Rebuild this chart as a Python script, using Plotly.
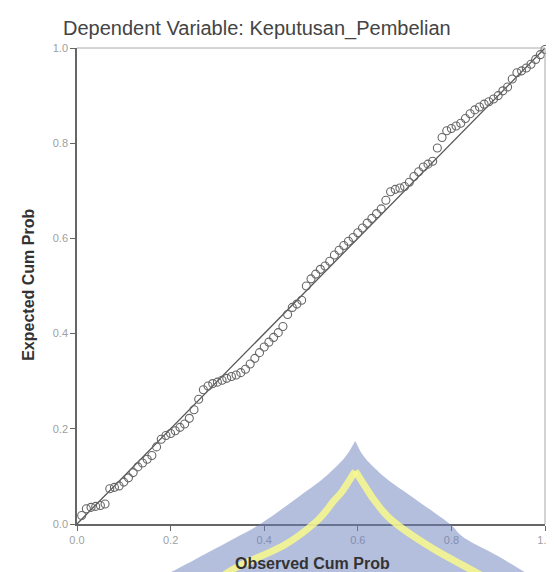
import plotly.graph_objects as go

observed = [0.01, 0.02, 0.03, 0.04, 0.05, 0.06, 0.07, 0.08, 0.09, 0.10,
            0.11, 0.12, 0.13, 0.14, 0.15, 0.16, 0.17, 0.18, 0.19, 0.20,
            0.21, 0.22, 0.23, 0.24, 0.25, 0.26, 0.27, 0.28, 0.29, 0.30,
            0.31, 0.32, 0.33, 0.34, 0.35, 0.36, 0.37, 0.38, 0.39, 0.40,
            0.41, 0.42, 0.43, 0.44, 0.45, 0.46, 0.47, 0.48, 0.49, 0.50,
            0.51, 0.52, 0.53, 0.54, 0.55, 0.56, 0.57, 0.58, 0.59, 0.60,
            0.61, 0.62, 0.63, 0.64, 0.65, 0.66, 0.67, 0.68, 0.69, 0.70,
            0.71, 0.72, 0.73, 0.74, 0.75, 0.76, 0.77, 0.78, 0.79, 0.80,
            0.81, 0.82, 0.83, 0.84, 0.85, 0.86, 0.87, 0.88, 0.89, 0.90,
            0.91, 0.92, 0.93, 0.94, 0.95, 0.96, 0.97, 0.98, 0.99, 1.00]

expected = [0.018, 0.032, 0.035, 0.037, 0.039, 0.042, 0.074, 0.077, 0.080, 0.088,
            0.097, 0.108, 0.120, 0.128, 0.136, 0.144, 0.162, 0.178, 0.186, 0.190,
            0.196, 0.203, 0.210, 0.222, 0.240, 0.262, 0.282, 0.290, 0.295, 0.298,
            0.302, 0.306, 0.310, 0.313, 0.318, 0.325, 0.336, 0.348, 0.360, 0.372,
            0.382, 0.392, 0.402, 0.415, 0.440, 0.455, 0.462, 0.470, 0.500, 0.515,
            0.525, 0.535, 0.542, 0.552, 0.565, 0.575, 0.585, 0.594, 0.602, 0.612,
            0.622, 0.632, 0.642, 0.652, 0.662, 0.680, 0.698, 0.703, 0.706, 0.709,
            0.718, 0.730, 0.740, 0.750, 0.756, 0.762, 0.790, 0.812, 0.826, 0.831,
            0.836, 0.842, 0.852, 0.862, 0.870, 0.876, 0.882, 0.887, 0.893, 0.900,
            0.910, 0.918, 0.935, 0.948, 0.952, 0.958, 0.966, 0.976, 0.986, 0.997]

ref_line = [0.0, 1.0]
tick_vals = [0.0, 0.2, 0.4, 0.6, 0.8, 1.0]
tick_text = ["0.0", "0.2", "0.4", "0.6", "0.8", "1.0"]

W, H = 554, 572
L, R, T, B = 69, 545, 40, 516


def px(x, y):
    return (x - L) / (R - L), (B - y) / (B - T)


def fmt(p):
    a = px(*p)
    return f"{a[0]:.4f},{a[1]:.4f}"


def smooth(points, start_cmd="M"):
    """Catmull-Rom spline through the points, as cubic Bezier path segments."""
    s = f"{start_cmd} {fmt(points[0])}"
    n = len(points)
    for i in range(n - 1):
        p0 = points[i - 1] if i > 0 else points[i]
        p1 = points[i]
        p2 = points[i + 1]
        p3 = points[i + 2] if i + 2 < n else points[i + 1]
        c1 = (p1[0] + (p2[0] - p0[0]) / 6, p1[1] + (p2[1] - p0[1]) / 6)
        c2 = (p2[0] - (p3[0] - p1[0]) / 6, p2[1] - (p3[1] - p1[1]) / 6)
        s += f" C {fmt(c1)} {fmt(c2)} {fmt(p2)}"
    return s


blue_left = [(352, 433), (341, 450), (320, 470), (297, 487), (257, 515),
             (230, 530), (190, 551), (150, 572), (120, 590)]
blue_right = [(585, 590), (555, 578), (530, 567), (497, 548), (463, 530),
              (447, 515), (407, 487), (383, 470), (362, 450), (352, 433)]
yellow_left = [(352, 463), (339, 483), (330, 493), (313, 513),
               (280, 537), (230, 560), (200, 580)]
yellow_right = [(352, 463), (365, 483), (372, 493), (390, 513),
                (430, 540), (480, 567), (505, 580)]

blue_path = smooth(blue_left) + " L " + fmt(blue_right[0]) + " " + \
    smooth(blue_right).split(" ", 2)[2] + " Z"

fig = go.Figure()
fig.add_trace(go.Scatter(x=ref_line, y=ref_line, mode="lines",
                         line=dict(color="#555555", width=1.3),
                         hoverinfo="skip", showlegend=False))
fig.add_trace(go.Scatter(x=observed, y=expected, mode="markers",
                         marker=dict(symbol="circle-open", size=8,
                                     color="#666666", line=dict(width=1.1)),
                         cliponaxis=False, showlegend=False))

axis_common = dict(range=[0, 1], tickvals=tick_vals, ticktext=tick_text,
                   showgrid=False, zeroline=False, showline=True,
                   linecolor="#666666", linewidth=1.5,
                   ticks="outside", ticklen=5, tickcolor="#666666",
                   tickfont=dict(family="Liberation Sans, Arial", size=11, color="#a0a0a0"))

fig.update_xaxes(**axis_common)
fig.update_yaxes(**axis_common)

shapes = [
    dict(type="line", xref="paper", yref="paper", x0=0, y0=1, x1=1, y1=1,
         line=dict(color="#a8a8a8", width=1)),
    dict(type="line", xref="paper", yref="paper", x0=1, y0=0, x1=1, y1=1,
         line=dict(color="#a8a8a8", width=1)),
    dict(type="path", xref="paper", yref="paper", path=blue_path,
         fillcolor="rgb(105,125,188)", opacity=0.5, line=dict(width=0), layer="above"),
    dict(type="path", xref="paper", yref="paper", path=smooth(yellow_left),
         line=dict(color="rgb(250,250,140)", width=7), opacity=0.85, layer="above"),
    dict(type="path", xref="paper", yref="paper", path=smooth(yellow_right),
         line=dict(color="rgb(250,250,140)", width=7), opacity=0.85, layer="above"),
]

tx, ty = px(252, 21)
xx, xy = px(309, 555)
yx, yy = px(19, 277)
annotations = [
    dict(text="Dependent Variable: Keputusan_Pembelian", xref="paper", yref="paper",
         x=tx, y=ty, showarrow=False, xanchor="center", yanchor="middle",
         font=dict(family="Liberation Sans, Arial", size=20, color="#444444")),
    dict(text="<b>Observed Cum Prob</b>", xref="paper", yref="paper",
         x=xx, y=xy, showarrow=False, xanchor="center", yanchor="middle",
         font=dict(family="Liberation Sans, Arial", size=16, color="#333333")),
    dict(text="<b>Expected Cum Prob</b>", xref="paper", yref="paper",
         x=yx, y=yy, showarrow=False, xanchor="center", yanchor="middle", textangle=-90,
         font=dict(family="Liberation Sans, Arial", size=16, color="#333333")),
]

fig.update_layout(width=W, height=H, margin=dict(l=L, r=W - R, t=T, b=H - B),
                  paper_bgcolor="white", plot_bgcolor="white",
                  shapes=shapes, annotations=annotations, showlegend=False)

fig.write_html("out.html")
